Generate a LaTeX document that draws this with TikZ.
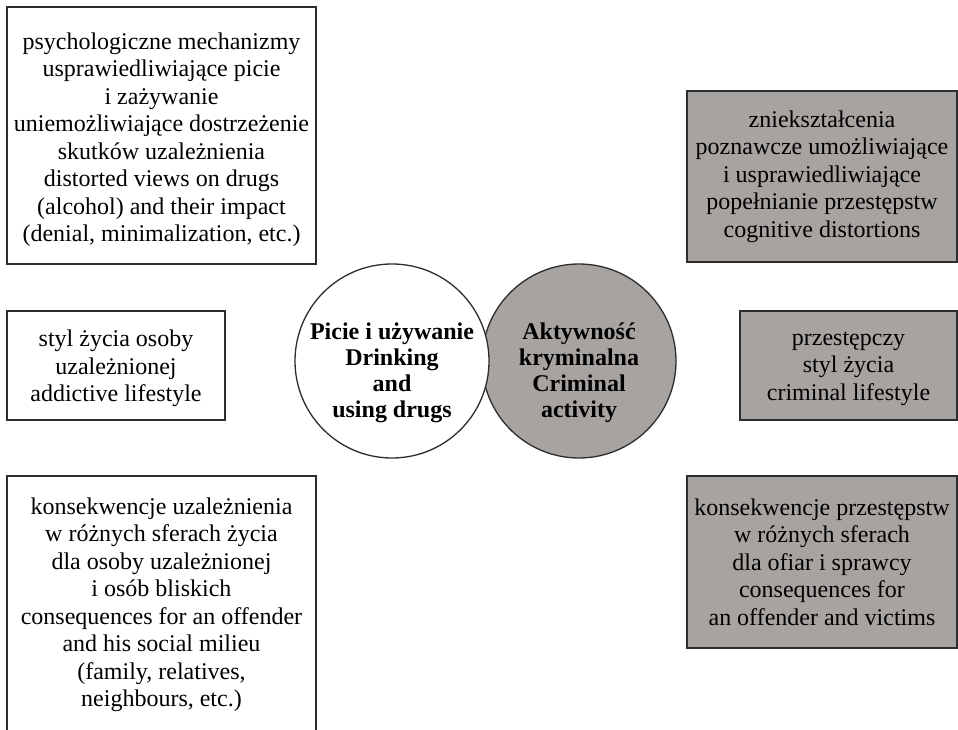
\documentclass[tikz,border=0pt]{standalone}
\usepackage{fontspec}
\setmainfont{Liberation Serif}
\usetikzlibrary{positioning}
\definecolor{crimgray}{RGB}{167,163,161}
\definecolor{edgegray}{RGB}{45,45,45}
\tikzset{
  box/.style={rectangle, draw=edgegray, line width=1.3pt, fill=white, inner sep=0pt},
  greybox/.style={box, fill=crimgray},
  boxtext/.style={align=center, inner sep=0pt, font=\fontsize{24}{27.5}\selectfont},
  circtext/.style={align=center, inner sep=0pt, font=\fontsize{24}{26}\selectfont\bfseries},
}

\begin{document}
\begin{tikzpicture}[x=1pt, y=-1pt]
  \useasboundingbox (0,0) rectangle (958,730);
  \clip (0,0) rectangle (958,730);

  % Boxes (left: addiction, right: crime)
  \node[box, minimum width=309pt, minimum height=257pt] (mech) at (161.5,135.5) {};
  \node[box, minimum width=218pt, minimum height=109pt] (addlife) at (116,365.5) {};
  \node[box, minimum width=309pt, minimum height=284pt] (addcons) at (161.5,618) {};
  \node[greybox, minimum width=270pt, minimum height=171pt] (cogdist) at (822,176.5) {};
  \node[greybox, minimum width=217pt, minimum height=109pt] (crimlife) at (848.5,365.5) {};
  \node[greybox, minimum width=270pt, minimum height=172pt] (crimcons) at (822,562) {};

  % Circles
  \node[circle, draw=edgegray, line width=1.3pt, fill=crimgray, minimum size=194pt] (crime) at (579,361) {};
  \node[circle, draw=edgegray, line width=1.3pt, fill=white, minimum size=194pt] (drink) at (392,361) {};

  % Texts
  \node[boxtext] (mech-t) at ([yshift=-4pt]mech.center) {psychologiczne mechanizmy\\usprawiedliwiające picie\\i zażywanie\\uniemożliwiające dostrzeżenie\\skutków uzależnienia\\distorted views on drugs\\(alcohol) and their impact\\(denial, minimalization, etc.)};
  \node[boxtext] (addlife-t) at ([yshift=-3pt]addlife.center) {styl życia osoby\\uzależnionej\\addictive lifestyle};
  \node[boxtext, anchor=north] (addcons-t) at ([yshift=-22pt]addcons.north) {konsekwencje uzależnienia\\w różnych sferach życia\\dla osoby uzależnionej\\i osób bliskich\\consequences for an offender\\and his social milieu\\(family, relatives,\\neighbours, etc.)};
  \node[boxtext] (cogdist-t) at (cogdist) {zniekształcenia\\poznawcze umożliwiające\\i usprawiedliwiające\\popełnianie przestępstw\\cognitive distortions};
  \node[boxtext] (crimlife-t) at ([yshift=-3pt]crimlife.center) {przestępczy\\styl życia\\criminal lifestyle};
  \node[boxtext] (crimcons-t) at (crimcons) {konsekwencje przestępstw\\w różnych sferach\\dla ofiar i sprawcy\\consequences for\\an offender and victims};
  \node[circtext] (drink-t) at ([yshift=-12pt]drink.center) {Picie i używanie\\Drinking\\and\\using drugs};
  \node[circtext] (crime-t) at ([yshift=-12pt]crime.center) {Aktywność\\kryminalna\\Criminal\\activity};
\end{tikzpicture}
\end{document}
